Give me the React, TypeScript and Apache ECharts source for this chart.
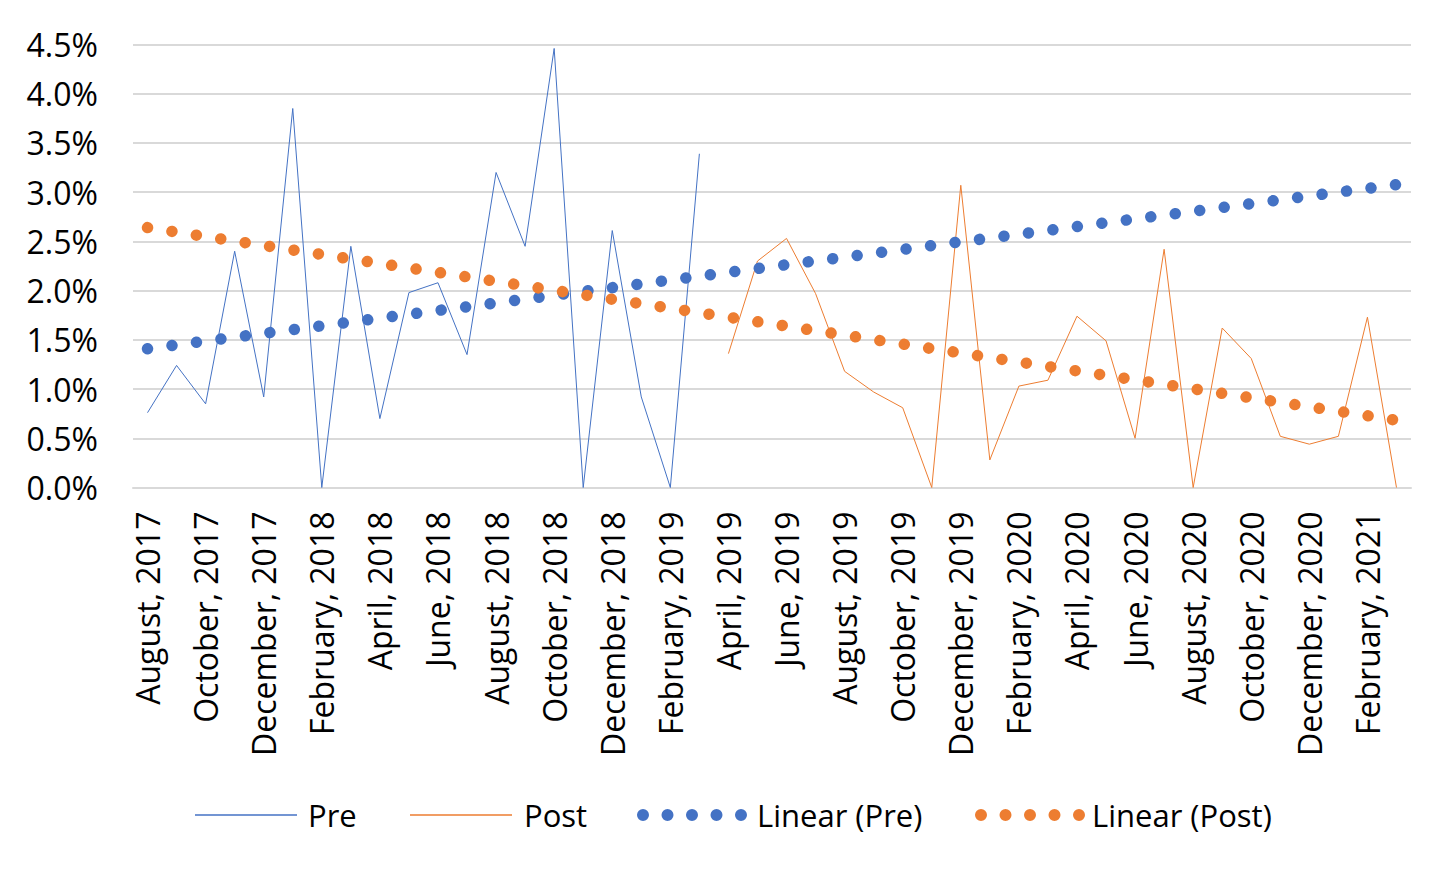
import React, { useEffect, useRef } from 'react';
import * as echarts from 'echarts';

const months = [
  'August, 2017', 'September, 2017', 'October, 2017', 'November, 2017', 'December, 2017',
  'January, 2018', 'February, 2018', 'March, 2018', 'April, 2018', 'May, 2018', 'June, 2018',
  'July, 2018', 'August, 2018', 'September, 2018', 'October, 2018', 'November, 2018', 'December, 2018',
  'January, 2019', 'February, 2019', 'March, 2019', 'April, 2019', 'May, 2019', 'June, 2019',
  'July, 2019', 'August, 2019', 'September, 2019', 'October, 2019', 'November, 2019', 'December, 2019',
  'January, 2020', 'February, 2020', 'March, 2020', 'April, 2020', 'May, 2020', 'June, 2020',
  'July, 2020', 'August, 2020', 'September, 2020', 'October, 2020', 'November, 2020', 'December, 2020',
  'January, 2021', 'February, 2021', 'March, 2021',
];

// percent values
const preValues = [0.76, 1.24, 0.85, 2.40, 0.92, 3.85, 0, 2.45, 0.70, 1.98, 2.08, 1.35, 3.20, 2.45, 4.46, 0, 2.61, 0.92, 0, 3.39];
const postValues = [1.36, 2.30, 2.53, 1.97, 1.18, 0.97, 0.81, 0, 3.07, 0.28, 1.03, 1.09, 1.74, 1.49, 0.50, 2.42, 0, 1.62, 1.31, 0.52, 0.44, 0.52, 1.73, 0];

const preTrend = [
  1.410, 1.449, 1.488, 1.526, 1.565, 1.604, 1.643, 1.681, 1.720, 1.759, 1.798, 1.836, 1.875, 1.914, 1.953,
  1.992, 2.030, 2.069, 2.108, 2.147, 2.185, 2.224, 2.263, 2.302, 2.340, 2.379, 2.418, 2.457, 2.496, 2.534,
  2.573, 2.612, 2.651, 2.689, 2.728, 2.767, 2.806, 2.844, 2.883, 2.922, 2.961, 3.000, 3.038, 3.077,
];
const postTrend = [
  2.640, 2.594, 2.549, 2.503, 2.458, 2.412, 2.367, 2.321, 2.276, 2.230, 2.185, 2.139, 2.094, 2.048, 2.003,
  1.957, 1.912, 1.866, 1.821, 1.775, 1.730, 1.684, 1.639, 1.593, 1.548, 1.502, 1.457, 1.411, 1.366, 1.320,
  1.275, 1.229, 1.184, 1.138, 1.093, 1.047, 1.002, 0.956, 0.911, 0.865, 0.820, 0.774, 0.729, 0.683,
];

const BLUE = '#4472C4';
const ORANGE = '#ED7D31';

export default function App() {
  const ref = useRef<HTMLDivElement>(null);
  useEffect(() => {
    const chart = echarts.init(ref.current!, null, { renderer: 'svg' });
    const font = "'Open Sans', sans-serif";
    const pre = [...preValues, ...postValues.map(() => null)];
    const post = [...preValues.map(() => null), ...postValues];
    const dotsIcon =
      'path://' +
      [0, 1, 2, 3, 4]
        .map((k) => {
          const cx = 6 + 24.5 * k;
          return `M${cx - 6},6a6,6 0 1,0 12,0a6,6 0 1,0 -12,0Z`;
        })
        .join('');
    const legendText = (pad: number) => ({
      fontFamily: font,
      fontSize: 31,
      color: '#000',
      lineHeight: 36,
      padding: [0, 0, 0, pad],
    });
    chart.setOption({
      animation: false,
      grid: { left: 133, right: 45, top: 44.5, bottom: 386.5 },
      legend: [
        { left: 195, top: 797, padding: 0, selectedMode: false, itemWidth: 102, itemHeight: 1.5, data: [{ name: 'Pre', icon: 'rect' }], textStyle: legendText(6) },
        { left: 410, top: 797, padding: 0, selectedMode: false, itemWidth: 102, itemHeight: 1.5, data: [{ name: 'Post', icon: 'rect' }], textStyle: legendText(7) },
        { left: 637, top: 797, padding: 0, selectedMode: false, itemWidth: 110, itemHeight: 12, data: [{ name: 'Linear (Pre)', icon: dotsIcon }], textStyle: legendText(5) },
        { left: 975, top: 797, padding: 0, selectedMode: false, itemWidth: 110, itemHeight: 12, data: [{ name: 'Linear (Post)', icon: dotsIcon }], textStyle: legendText(2) },
      ],
      xAxis: {
        type: 'category',
        data: months,
        boundaryGap: true,
        axisLine: { lineStyle: { color: '#d9d9d9', width: 2 } },
        axisTick: { show: false },
        axisLabel: {
          interval: 1,
          rotate: 90,
          margin: 24,
          fontFamily: font,
          fontSize: 32,
          color: '#000',
        },
      },
      yAxis: {
        type: 'value',
        min: 0,
        max: 4.5,
        interval: 0.5,
        axisLine: { show: false },
        axisTick: { show: false },
        splitLine: { lineStyle: { color: '#d9d9d9', width: 2 } },
        axisLabel: {
          margin: 35,
          fontFamily: font,
          fontSize: 32,
          color: '#000',
          formatter: (v: number) => v.toFixed(1) + '%',
        },
      },
      series: [
        {
          name: 'Pre',
          type: 'line',
          data: pre,
          color: BLUE,
          symbol: 'none',
          lineStyle: { width: 1, color: BLUE },
          connectNulls: false,
          emphasis: { disabled: true },
          z: 2,
        },
        {
          name: 'Post',
          type: 'line',
          data: post,
          color: ORANGE,
          symbol: 'none',
          lineStyle: { width: 1, color: ORANGE },
          connectNulls: false,
          emphasis: { disabled: true },
          z: 2,
        },
        {
          name: 'Linear (Pre)',
          type: 'line',
          data: preTrend,
          color: BLUE,
          symbol: 'none',
          lineStyle: { width: 11.5, color: BLUE, type: [0.01, 24.67], cap: 'round' },
          emphasis: { disabled: true },
          z: 3,
        },
        {
          name: 'Linear (Post)',
          type: 'line',
          data: postTrend,
          color: ORANGE,
          symbol: 'none',
          lineStyle: { width: 11.5, color: ORANGE, type: [0.01, 24.69], cap: 'round' },
          emphasis: { disabled: true },
          z: 3,
        },
      ],
    });
    return () => chart.dispose();
  }, []);
  return <div ref={ref} style={{ position: 'absolute', left: 0, top: 0, width: 1456, height: 874 }} />;
}
